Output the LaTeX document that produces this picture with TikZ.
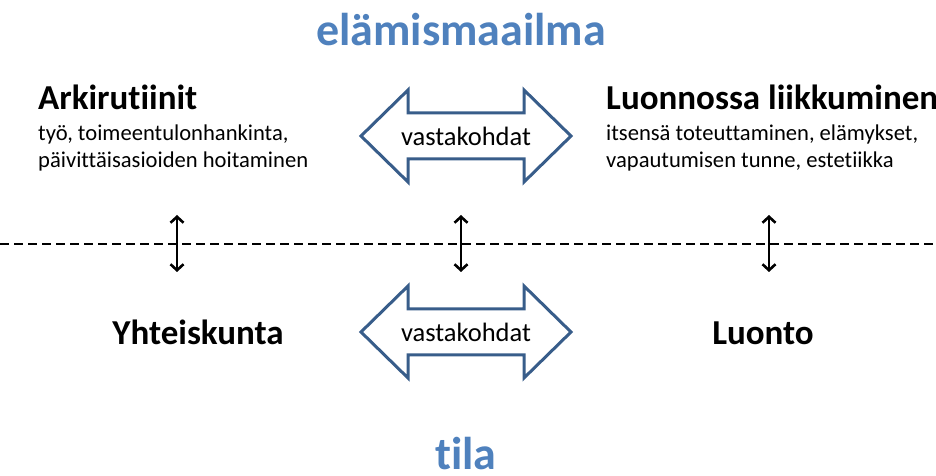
\documentclass[tikz,border=0pt]{standalone}
\usepackage{fontspec}
\setmainfont[Ligatures=NoCommon]{Carlito}
\usetikzlibrary{arrows.meta}
\definecolor{otsikko}{RGB}{79,129,189}
\definecolor{reuna}{RGB}{56,93,138}
\tikzset{
	otsikkoteksti/.style={font=\fontsize{46}{46}\selectfont\bfseries,text=otsikko,inner sep=0pt},
	paateksti/.style={font=\fontsize{35}{35}\selectfont\bfseries,inner sep=0pt},
	pikkuteksti/.style={font=\fontsize{22.6}{22.6}\selectfont,inner sep=0pt},
	nuoliteksti/.style={font=\fontsize{26.5}{26.5}\selectfont,inner sep=0pt},
	vastanuoli/.style={draw=reuna,line width=3pt,fill=white,line join=miter},
	pystynuoli/.style={line width=2.6pt,{Straight Barb[length=6pt,width=13pt]}-{Straight Barb[length=6pt,width=13pt]}},
}
\begin{document}
\begin{tikzpicture}[x=1pt,y=1pt]
	\useasboundingbox (0,0) rectangle (936,476);
	\clip (0,0) rectangle (936,476);
	\node[otsikkoteksti,anchor=base] (otsikko) at (461,430) {elämismaailma};
	\node[otsikkoteksti,anchor=base] (tila) at (466,6) {tila};
	\node[paateksti,anchor=base west] (arki) at (38,366) {Arkirutiinit};
	\node[pikkuteksti,anchor=base west] (arki1) at (38,335) {työ, toimeentulonhankinta,};
	\node[pikkuteksti,anchor=base west] (arki2) at (38,308) {päivittäisasioiden hoitaminen};
	\node[paateksti,anchor=base west] (luonnossa) at (606,366) {Luonnossa liikkuminen};
	\node[pikkuteksti,anchor=base west] (luonnossa1) at (606,335) {itsensä toteuttaminen, elämykset,};
	\node[pikkuteksti,anchor=base west] (luonnossa2) at (606,308) {vapautumisen tunne, estetiikka};
	\node[paateksti,anchor=base] (yhteiskunta) at (198,131) {Yhteiskunta};
	\node[paateksti,anchor=base] (luonto) at (763,131) {Luonto};
	\draw[line width=1.3pt,dash pattern=on 9pt off 5pt] (0,232) -- (936,232);
	\draw[vastanuoli] (361,340)--(408,386)--(408,363)--(524,363)--(524,386)--(571,340)--(524,294)--(524,317)--(408,317)--(408,294)--cycle;
	\node[nuoliteksti] (vasta1) at (466,340) {vastakohdat};
	\draw[vastanuoli] (361,144)--(408,190)--(408,167)--(524,167)--(524,190)--(571,144)--(524,98)--(524,121)--(408,121)--(408,98)--cycle;
	\node[nuoliteksti] (vasta2) at (466,144) {vastakohdat};
	\coordinate (v1) at (177,261);
	\coordinate (v2) at (177,204);
	\coordinate (k1) at (461,261);
	\coordinate (k2) at (461,204);
	\coordinate (o1) at (769,261);
	\coordinate (o2) at (769,204);
	\draw[pystynuoli] (v1)--(v2);
	\draw[pystynuoli] (k1)--(k2);
	\draw[pystynuoli] (o1)--(o2);
\end{tikzpicture}
\end{document}
